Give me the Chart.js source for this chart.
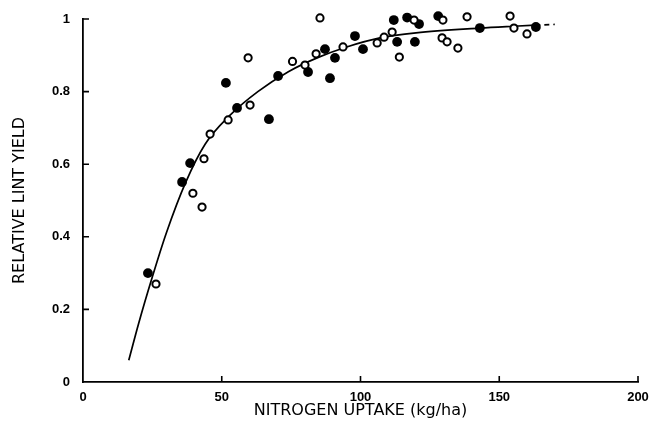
<!DOCTYPE html>
<html>
<head>
<meta charset="utf-8">
<script src="https://cdn.jsdelivr.net/npm/chart.js@4/dist/chart.umd.min.js"></script>
<style>
  html, body { margin: 0; padding: 0; background: #fff; }
  #wrap { width: 651px; height: 429px; }
</style>
</head>
<body>
<div id="wrap"><canvas id="c" width="651" height="429"></canvas></div>
<script>
// ---- data ----
const filledX = [23.4, 35.7, 38.6, 51.5, 55.5, 67.0, 70.3, 81.1, 87.2, 89.0, 90.8, 98.0, 100.9, 112.0, 113.2, 116.8, 121.1, 119.6, 128.0, 143.0, 163.2];
const filledY = [0.30, 0.551, 0.603, 0.824, 0.755, 0.724, 0.843, 0.854, 0.917, 0.837, 0.893, 0.953, 0.917, 0.997, 0.937, 1.004, 0.986, 0.937, 1.008, 0.975, 0.978];

const openX = [26.3, 39.6, 42.9, 43.6, 45.8, 52.3, 59.5, 60.2, 75.5, 80.0, 84.0, 85.4, 93.7, 106.0, 108.5, 111.4, 114.0, 119.3, 129.7, 129.4, 131.2, 135.1, 138.4, 153.9, 155.3, 160.0];
const openY = [0.27, 0.52, 0.482, 0.615, 0.683, 0.722, 0.893, 0.763, 0.883, 0.873, 0.904, 1.003, 0.923, 0.934, 0.95, 0.964, 0.895, 0.997, 0.997, 0.948, 0.937, 0.92, 1.006, 1.008, 0.975, 0.959];

const curveX = [16.5, 20, 25, 30, 37, 44, 53, 63, 74, 85, 95, 107, 120, 143, 155, 163, 170];
const curveY = [0.06, 0.16, 0.29, 0.41, 0.55, 0.655, 0.735, 0.80, 0.855, 0.895, 0.923, 0.948, 0.962, 0.975, 0.98, 0.983, 0.985];

const xTicks = [0, 50, 100, 150, 200];
const yTicks = [0, 0.2, 0.4, 0.6, 0.8, 1];

const toPts = (xs, ys) => xs.map((x, i) => ({ x: x, y: ys[i] }));

const innerTicks = {
  id: 'innerTicks',
  afterDraw(chart) {
    const { ctx, scales: { x, y } } = chart;
    ctx.save();
    ctx.strokeStyle = '#000';
    ctx.lineWidth = 1.6;
    ctx.beginPath();
    xTicks.forEach(v => {
      if (v === 0) return;
      const px = x.getPixelForValue(v);
      ctx.moveTo(px, y.bottom);
      ctx.lineTo(px, y.bottom - 6);
    });
    yTicks.forEach(v => {
      if (v === 0) return;
      const py = y.getPixelForValue(v);
      ctx.moveTo(x.left, py);
      ctx.lineTo(x.left + 6, py);
    });
    ctx.stroke();
    ctx.restore();
  }
};

const tickFont = { family: "'Liberation Sans', Arial, sans-serif", size: 13, weight: 'bold' };
const titleFont = { family: "'DejaVu Sans', sans-serif", size: 16 };

new Chart(document.getElementById('c'), {
  type: 'scatter',
  data: {
    datasets: [
      {
        label: 'open',
        data: toPts(openX, openY),
        pointRadius: 3.6,
        pointHoverRadius: 3.6,
        pointBackgroundColor: '#fff',
        pointBorderColor: '#000',
        pointBorderWidth: 2,
        clip: false,
        order: 1
      },
      {
        label: 'filled',
        data: toPts(filledX, filledY),
        pointRadius: 4.9,
        pointHoverRadius: 4.9,
        pointBackgroundColor: '#000',
        pointBorderColor: '#000',
        pointBorderWidth: 0,
        clip: false,
        order: 2
      },
      {
        label: 'curve',
        type: 'line',
        data: toPts(curveX, curveY),
        showLine: true,
        borderColor: '#000',
        borderWidth: 1.7,
        pointRadius: 0,
        fill: false,
        clip: false,
        cubicInterpolationMode: 'monotone',
        segment: {
          borderDash: ctx => ctx.p0DataIndex >= curveX.length - 2 ? [5, 4] : undefined
        },
        order: 3
      }
    ]
  },
  options: {
    responsive: false,
    animation: false,
    devicePixelRatio: 1,
    layout: { padding: { left: 0, right: 13, top: 19, bottom: 0 } },
    plugins: { legend: { display: false }, tooltip: { enabled: false } },
    scales: {
      x: {
        type: 'linear',
        min: 0, max: 200,
        afterFit: s => { s.height = 47; },
        afterBuildTicks: s => { s.ticks = xTicks.map(v => ({ value: v })); },
        grid: { display: false },
        border: { display: true, color: '#000', width: 1.8 },
        ticks: { color: '#000', font: tickFont, padding: 0, maxRotation: 0 },
        title: {
          display: true,
          text: 'NITROGEN UPTAKE (kg/ha)',
          color: '#000',
          font: titleFont,
          padding: { top: 0, bottom: 9 }
        }
      },
      y: {
        type: 'linear',
        min: 0, max: 1,
        afterFit: s => { s.width = 83; },
        afterBuildTicks: s => { s.ticks = yTicks.map(v => ({ value: v })); },
        grid: { display: false },
        border: { display: true, color: '#000', width: 1.8 },
        ticks: { color: '#000', font: tickFont, padding: 5, callback: v => String(v) },
        title: {
          display: true,
          text: 'RELATIVE LINT YIELD',
          color: '#000',
          font: titleFont,
          padding: { top: 10, bottom: 0 }
        }
      }
    }
  },
  plugins: [innerTicks]
});
</script>
</body>
</html>
